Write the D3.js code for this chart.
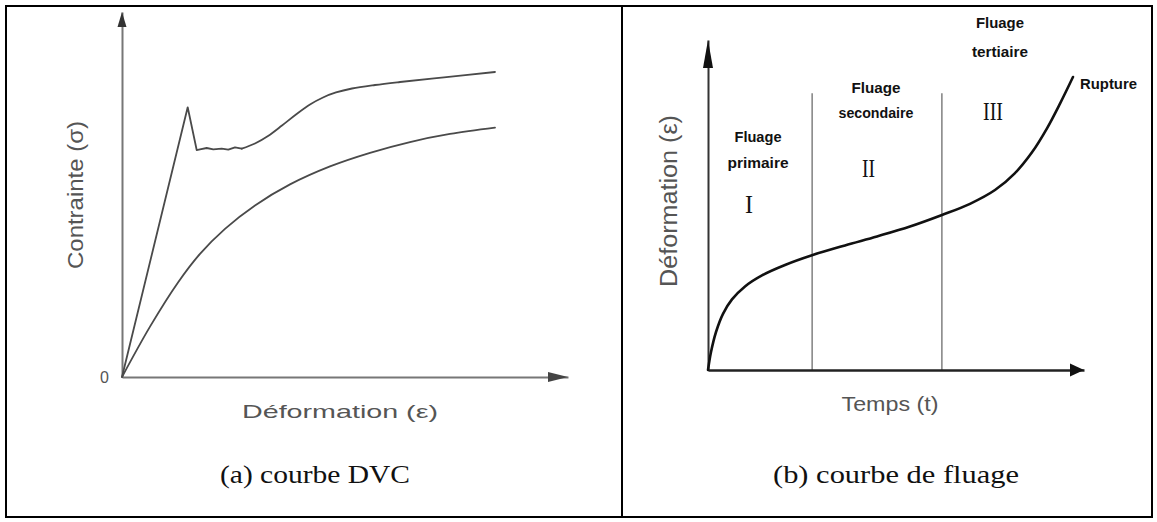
<!DOCTYPE html>
<html>
<head>
<meta charset="utf-8">
<script src="https://cdn.jsdelivr.net/npm/d3@7"></script>
<style>
  body { margin: 0; background: #fff; }
  svg { display: block; }
</style>
</head>
<body>
<svg id="fig" width="1157" height="522"></svg>
<script>
// ---- (a) stress–strain curves, arbitrary units 0–100 on both axes ----
// upper curve: elastic rise, yield drop, serrated plateau, then hardening
const dvcUpperStrain = [0, 14.73, 16.75, 17.49, 18.99, 20.47, 22.35, 23.83, 25.34, 26.84,
                        29.82, 32.74, 35.87, 39.01, 42.15, 45.07, 47.98, 51.57, 56.73, 62.33, 72.20, 83.63];
const dvcUpperStress = [0, 73.89, 62.19, 62.38, 62.74, 62.38, 62.55, 62.27, 62.93, 62.55,
                        63.97, 66.03, 68.90, 71.92, 74.66, 76.58, 77.95, 79.04, 80.00, 80.82, 82.11, 83.56];
const dvcPlateauEnd = 9; // index where the serrated plateau ends and hardening begins
// lower curve: continuous hardening without a yield point
const dvcLowerStrain = [0, 6.28, 12.56, 17.49, 23.09, 29.82, 37.67, 46.64, 55.61, 64.57, 73.54, 83.63];
const dvcLowerStress = [0, 13.81, 25.92, 33.75, 40.60, 47.01, 52.77, 57.70, 61.42, 64.38, 66.58, 68.30];
const dvcTicks = [0];

// ---- (b) creep curve, arbitrary units 0–100 on both axes ----
const creepTime   = [0, 0.80, 2.13, 3.99, 6.38, 9.84, 14.36, 20.48, 27.66, 36.44, 44.95,
                     53.72, 62.23, 69.68, 76.33, 81.65, 86.17, 90.16, 93.62, 97.07];
const creepStrain = [0, 5.45, 11.52, 17.03, 21.39, 25.33, 28.67, 31.82, 34.76, 37.76, 40.48,
                     43.48, 46.97, 50.36, 54.53, 59.68, 65.97, 73.24, 80.73, 88.79];
const stageLimits = [27.7, 62.2];
const stageTop = 83.9;
const stageNumerals = ["I", "II", "III"];
const stageNames = [["Fluage", "primaire"], ["Fluage", "secondaire"], ["Fluage", "tertiaire"]];

const svg = d3.select("#fig");
const SANS = "'Liberation Sans', Arial, sans-serif";
const SERIF = "'Liberation Serif', 'Times New Roman', serif";

// table frame: outer box plus the column divider
svg.append("rect").attr("x", 6).attr("y", 6).attr("width", 1146).attr("height", 511)
  .attr("fill", "none").attr("stroke", "#000").attr("stroke-width", 2);
svg.append("line").attr("x1", 622).attr("x2", 622).attr("y1", 6).attr("y2", 517)
  .attr("stroke", "#000").attr("stroke-width", 2);

function zip(xs, ys) { return xs.map((v, i) => [v, ys[i]]); }

// ================= panel (a) =================
const xL = d3.scaleLinear().domain([0, 100]).range([122, 568]);
const yL = d3.scaleLinear().domain([0, 100]).range([377, 12]);
const gA = svg.append("g");

const axA = gA.append("g").attr("transform", `translate(0,${yL(0)})`)
  .call(d3.axisBottom(xL).tickValues([]).tickSizeOuter(0));
axA.select(".domain").attr("stroke", "#777").attr("stroke-width", 2);

const ayA = gA.append("g").attr("transform", `translate(${xL(0)},0)`)
  .call(d3.axisLeft(yL).tickValues(dvcTicks).tickSize(0).tickSizeOuter(0).tickPadding(13).tickFormat(d3.format("d")));
ayA.select(".domain").attr("stroke", "#777").attr("stroke-width", 2);
ayA.selectAll(".tick text").attr("font-family", SANS).attr("font-size", 16).attr("fill", "#555");

// arrowheads
gA.append("path").attr("fill", "#333")
  .attr("d", `M${xL(0)},${yL(100)}L${xL(0) - 4.5},${yL(100) + 15}L${xL(0) + 4.5},${yL(100) + 15}Z`);
gA.append("path").attr("fill", "#444")
  .attr("d", `M${xL(100)},${yL(0)}L${xL(100) - 20},${yL(0) - 5}L${xL(100) - 20},${yL(0) + 5}Z`);

const upperPts = zip(dvcUpperStrain, dvcUpperStress);
const lineSharp = d3.line().x(d => xL(d[0])).y(d => yL(d[1]));
const lineSmooth = d3.line().x(d => xL(d[0])).y(d => yL(d[1])).curve(d3.curveCatmullRom.alpha(0.5));
const curveStyle = sel => sel.attr("fill", "none").attr("stroke", "#4a4a4a")
  .attr("stroke-width", 1.8).attr("stroke-linejoin", "round").attr("stroke-linecap", "round");

gA.append("path").datum(upperPts.slice(0, dvcPlateauEnd + 1)).attr("d", lineSharp).call(curveStyle);
gA.append("path").datum(upperPts.slice(dvcPlateauEnd)).attr("d", lineSmooth).call(curveStyle);
gA.append("path").datum(zip(dvcLowerStrain, dvcLowerStress)).attr("d", lineSmooth).call(curveStyle);

gA.append("text").text("Contrainte (σ)")
  .attr("transform", "translate(83,195) rotate(-90)")
  .attr("text-anchor", "middle").attr("font-family", SANS).attr("font-size", 22).attr("fill", "#555")
  .attr("textLength", 148).attr("lengthAdjust", "spacingAndGlyphs");
gA.append("text").text("Déformation (ε)")
  .attr("x", 340).attr("y", 418)
  .attr("text-anchor", "middle").attr("font-family", SANS).attr("font-size", 19).attr("fill", "#555")
  .attr("textLength", 196).attr("lengthAdjust", "spacingAndGlyphs");
gA.append("text").text("(a) courbe DVC")
  .attr("x", 315).attr("y", 483)
  .attr("text-anchor", "middle").attr("font-family", SERIF).attr("font-size", 26).attr("fill", "#111")
  .attr("textLength", 190).attr("lengthAdjust", "spacingAndGlyphs");

// ================= panel (b) =================
const xR = d3.scaleLinear().domain([0, 100]).range([708, 1084]);
const yR = d3.scaleLinear().domain([0, 100]).range([370, 40]);
const gB = svg.append("g");

// stage boundaries
gB.selectAll("line.stage").data(stageLimits).join("line").attr("class", "stage")
  .attr("x1", d => xR(d)).attr("x2", d => xR(d))
  .attr("y1", yR(stageTop)).attr("y2", yR(0))
  .attr("stroke", "#888").attr("stroke-width", 1.6);

const axB = gB.append("g").attr("transform", `translate(0,${yR(0)})`)
  .call(d3.axisBottom(xR).tickValues([]).tickSizeOuter(0));
axB.select(".domain").attr("stroke", "#222").attr("stroke-width", 2.4);
const ayB = gB.append("g").attr("transform", `translate(${xR(0)},0)`)
  .call(d3.axisLeft(yR).tickValues([]).tickSizeOuter(0));
ayB.select(".domain").attr("stroke", "#333").attr("stroke-width", 2);

gB.append("path").attr("fill", "#111")
  .attr("d", `M${xR(0)},${yR(100)}L${xR(0) - 5},${yR(100) + 28}L${xR(0) + 5},${yR(100) + 28}Z`);
gB.append("path").attr("fill", "#111")
  .attr("d", `M${xR(100)},${yR(0)}L${xR(100) - 14},${yR(0) - 6.5}L${xR(100) - 14},${yR(0) + 6.5}Z`);

const lineB = d3.line().x(d => xR(d[0])).y(d => yR(d[1])).curve(d3.curveCatmullRom.alpha(0.5));
gB.append("path").datum(zip(creepTime, creepStrain)).attr("d", lineB)
  .attr("fill", "none").attr("stroke", "#111").attr("stroke-width", 2.6).attr("stroke-linecap", "round");

// stage labels
const nameSpots = [
  { x: 758, y1: 142, y2: 168, w1: 47, w2: 61 },
  { x: 876, y1: 93, y2: 118, w1: 49, w2: 75 },
  { x: 1000, y1: 28, y2: 57, w1: 48, w2: 56 }
];
stageNames.forEach((pair, i) => {
  const s = nameSpots[i];
  [[pair[0], s.y1, s.w1], [pair[1], s.y2, s.w2]].forEach(([t, y, w]) => {
    gB.append("text").text(t).attr("x", s.x).attr("y", y)
      .attr("text-anchor", "middle").attr("font-family", SANS).attr("font-weight", "bold")
      .attr("font-size", 14).attr("fill", "#111")
      .attr("textLength", w).attr("lengthAdjust", "spacingAndGlyphs");
  });
});
const numeralSpots = [{ x: 749, y: 213, w: 8 }, { x: 868.5, y: 177, w: 13 }, { x: 993, y: 120, w: 20 }];
stageNumerals.forEach((n, i) => {
  const s = numeralSpots[i];
  gB.append("text").text(n).attr("x", s.x).attr("y", s.y)
    .attr("text-anchor", "middle").attr("font-family", SERIF).attr("font-size", 26).attr("fill", "#111")
    .attr("textLength", s.w).attr("lengthAdjust", "spacingAndGlyphs");
});
gB.append("text").text("Rupture").attr("x", 1080).attr("y", 89)
  .attr("font-family", SANS).attr("font-weight", "bold").attr("font-size", 14).attr("fill", "#111")
  .attr("textLength", 57).attr("lengthAdjust", "spacingAndGlyphs");

gB.append("text").text("Déformation (ε)")
  .attr("transform", "translate(677,201) rotate(-90)")
  .attr("text-anchor", "middle").attr("font-family", SANS).attr("font-size", 23).attr("fill", "#555")
  .attr("textLength", 172).attr("lengthAdjust", "spacingAndGlyphs");
gB.append("text").text("Temps (t)")
  .attr("x", 890).attr("y", 411)
  .attr("text-anchor", "middle").attr("font-family", SANS).attr("font-size", 20).attr("fill", "#555")
  .attr("textLength", 97).attr("lengthAdjust", "spacingAndGlyphs");
gB.append("text").text("(b) courbe de fluage")
  .attr("x", 896).attr("y", 483)
  .attr("text-anchor", "middle").attr("font-family", SERIF).attr("font-size", 26).attr("fill", "#111")
  .attr("textLength", 246).attr("lengthAdjust", "spacingAndGlyphs");
</script>
</body>
</html>
